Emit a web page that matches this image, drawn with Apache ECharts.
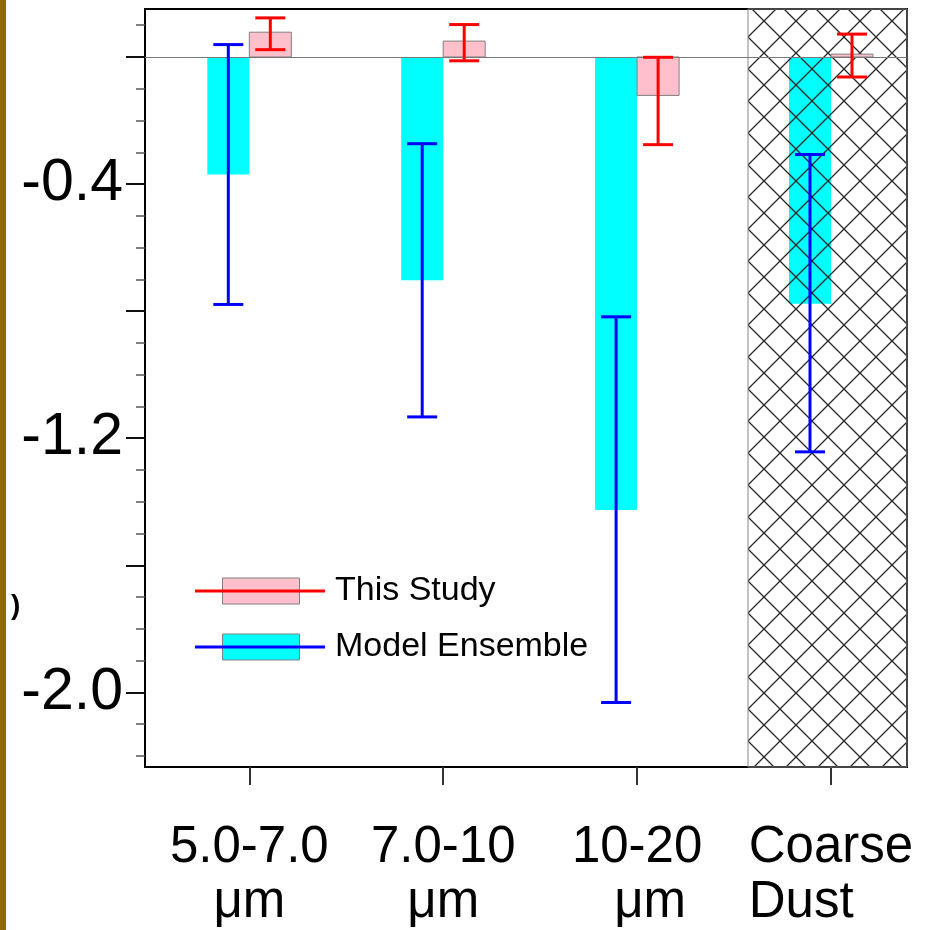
<!DOCTYPE html>
<html>
<head>
<meta charset="utf-8">
<script src="https://cdn.jsdelivr.net/npm/echarts@6/dist/echarts.min.js"></script>
<style>
  html, body { margin: 0; padding: 0; background: #ffffff; }
  #wrap { position: relative; width: 926px; height: 930px; }
  #chart { position: absolute; left: 0; top: 0; width: 926px; height: 930px; }
  #strip { position: absolute; left: 0; top: 0; width: 6px; height: 930px; background: #8c6a00; z-index: 10; }
</style>
</head>
<body>
<div id="wrap">
  <div id="chart"></div>
  <div id="strip"></div>
</div>
<script>
// Size-bin categories and their positions on the x axis
const categories = ['5.0-7.0\nμm', '7.0-10\nμm', '10-20\nμm', 'Coarse\nDust'];
const positions = [1, 2, 3, 4];

// This Study: central value and uncertainty range
const thisStudy = [0.078, 0.050, -0.121, 0.009];
const thisStudyLow = [0.023, -0.012, -0.276, -0.063];
const thisStudyHigh = [0.123, 0.102, -0.001, 0.072];

// Model Ensemble: central value and spread
const modelEnsemble = [-0.370, -0.703, -1.426, -0.777];
const modelLow = [-0.779, -1.133, -2.032, -1.243];
const modelHigh = [0.039, -0.273, -0.818, -0.307];

// Axis ranges and tick values
const xMin = 0.462, xMax = 4.392;
const yMin = -2.235, yMax = 0.151;
const yMajorTicks = [0, -0.4, -0.8, -1.2, -1.6, -2.0];
const yLabelTicks = [-0.4, -1.2, -2.0];
const yMinorTicks = [0.1, -0.1, -0.2, -0.3, -0.5, -0.6, -0.7, -0.9, -1.0, -1.1,
  -1.3, -1.4, -1.5, -1.7, -1.8, -1.9, -2.1, -2.2];

// Shaded (cross-hatched) x range for the coarse-dust bin
const hatchRange = [3.572, xMax];

const FONT = "'Liberation Sans', Arial, Helvetica, sans-serif";
const BAR_W = 42;      // bar width in px
const CAP_HALF = 15;   // half width of error-bar caps in px

// Cross-hatch tile
function makeHatch() {
  const s = 32;
  const c = document.createElement('canvas');
  c.width = s; c.height = s;
  const g = c.getContext('2d');
  g.strokeStyle = '#262626';
  g.lineWidth = 1.3;
  for (let k = -1; k <= 1; k++) {
    g.beginPath();
    g.moveTo(k * s, 0); g.lineTo(k * s + s, s);
    g.moveTo(k * s + s, 0); g.lineTo(k * s, s);
    g.stroke();
  }
  return c;
}

function barRenderer(side, fill, stroke) {
  return function (params, api) {
    const x = api.value(0), v = api.value(1);
    const p0 = api.coord([x, 0]);
    const p1 = api.coord([x, v]);
    const left = side < 0 ? p0[0] - BAR_W : p0[0];
    return {
      type: 'rect',
      shape: { x: left, y: Math.min(p0[1], p1[1]), width: BAR_W, height: Math.abs(p1[1] - p0[1]) },
      style: { fill: fill, stroke: stroke || null, lineWidth: stroke ? 1 : 0 }
    };
  };
}

function errorRenderer(side, color) {
  return function (params, api) {
    const x = api.value(0);
    const lo = api.coord([x, api.value(1)]);
    const hi = api.coord([x, api.value(2)]);
    const cx = lo[0] + side * BAR_W / 2;
    const st = { stroke: color, lineWidth: 3 };
    return {
      type: 'group',
      children: [
        { type: 'line', shape: { x1: cx, y1: lo[1], x2: cx, y2: hi[1] }, style: st },
        { type: 'line', shape: { x1: cx - CAP_HALF, y1: lo[1], x2: cx + CAP_HALF, y2: lo[1] }, style: st },
        { type: 'line', shape: { x1: cx - CAP_HALF, y1: hi[1], x2: cx + CAP_HALF, y2: hi[1] }, style: st }
      ]
    };
  };
}

const hatchTile = makeHatch();

const chart = echarts.init(document.getElementById('chart'), null, { renderer: 'canvas' });

// second-line style per category: centred, nudged right, or left-aligned
const unitStyle = ['c', 'c', 'r', 'l'];

const option = {
  animation: false,
  backgroundColor: '#ffffff',
  grid: {
    left: 145, right: 19, top: 9, bottom: 162,
    show: true, borderColor: '#000', borderWidth: 2, backgroundColor: 'transparent'
  },
  xAxis: {
    type: 'value',
    min: xMin, max: xMax,
    axisLine: { show: true, onZero: false, lineStyle: { color: '#000', width: 2 } },
    axisTick: { show: true, customValues: positions, length: 18, lineStyle: { color: '#333', width: 2 } },
    axisLabel: {
      show: true,
      customValues: positions,
      margin: 53,
      fontFamily: FONT, fontSize: 51, color: '#000', lineHeight: 55,
      formatter: function (v) {
        const i = positions.indexOf(Math.round(v));
        if (i < 0) return '';
        const parts = categories[i].split('\n');
        return '{c|' + parts[0] + '}\n{' + unitStyle[i] + '|' + parts[1] + '}';
      },
      rich: {
        c: { fontFamily: FONT, fontSize: 51, lineHeight: 55, color: '#000', align: 'center' },
        r: { fontFamily: FONT, fontSize: 51, lineHeight: 55, color: '#000', align: 'center', padding: [0, 0, 0, 26] },
        l: { fontFamily: FONT, fontSize: 51, lineHeight: 55, color: '#000', align: 'left' }
      }
    },
    splitLine: { show: false }
  },
  yAxis: [
    {
      type: 'value',
      position: 'left',
      min: yMin, max: yMax,
      axisLine: { show: true, onZero: false, lineStyle: { color: '#000', width: 2 } },
      axisTick: { show: true, customValues: yMajorTicks, length: 19, lineStyle: { color: '#111', width: 2 } },
      axisLabel: {
        show: true, customValues: yLabelTicks, margin: 22,
        fontFamily: FONT, fontSize: 59, color: '#000',
        formatter: function (v) { return v.toFixed(1); }
      },
      splitLine: { show: false }
    },
    {
      type: 'value',
      position: 'left',
      min: yMin, max: yMax,
      axisLine: { show: false, onZero: false },
      axisTick: { show: true, customValues: yMinorTicks, length: 9, lineStyle: { color: '#555', width: 1.5 } },
      axisLabel: { show: false },
      splitLine: { show: false }
    }
  ],
  legend: [
    {
      // colored boxes behind the legend lines
      orient: 'vertical', left: 222, top: 571, padding: 0, z: 4,
      itemGap: 16, itemWidth: 77, itemHeight: 26,
      selectedMode: false,
      textStyle: { fontFamily: FONT, fontSize: 34, lineHeight: 40, color: 'rgba(0,0,0,0)' },
      data: [
        { name: 'This Study', icon: 'rect', itemStyle: { color: '#ffc0cb', borderColor: '#808080', borderWidth: 1 } },
        { name: 'Model Ensemble', icon: 'rect', itemStyle: { color: '#00ffff', borderColor: '#808080', borderWidth: 1 } }
      ]
    },
    {
      orient: 'vertical', left: 195, top: 571, padding: 0, z: 5,
      itemGap: 16, itemWidth: 130, itemHeight: 3,
      selectedMode: false,
      textStyle: { fontFamily: FONT, fontSize: 34, lineHeight: 40, color: '#000', padding: [0, 0, 0, 5] },
      data: [
        { name: 'This Study', icon: 'rect', itemStyle: { color: '#ff0000', borderWidth: 0 } },
        { name: 'Model Ensemble', icon: 'rect', itemStyle: { color: '#0000ff', borderWidth: 0 } }
      ]
    }
  ],
  graphic: [
    { type: 'text', left: 11, top: 592, style: { text: ')', font: 'bold 28px ' + FONT, fill: '#000' } }
  ],
  series: [
    {
      name: 'Model Ensemble',
      type: 'custom', z: 2, silent: true,
      renderItem: barRenderer(-1, '#00ffff', null),
      data: positions.map((p, i) => [p, modelEnsemble[i]])
    },
    {
      name: 'coarse dust',
      type: 'custom', z: 3, silent: true,
      renderItem: function (params, api) {
        const a = api.coord([api.value(0), yMax]);
        const b = api.coord([api.value(1), yMin]);
        return {
          type: 'rect',
          shape: { x: a[0], y: a[1], width: b[0] - a[0], height: b[1] - a[1] },
          style: {
            fill: { image: hatchTile, repeat: 'repeat', x: 12, y: 5 },
            stroke: '#888', lineWidth: 1
          }
        };
      },
      data: [hatchRange]
    },
    {
      name: 'This Study',
      type: 'custom', z: 4, silent: true,
      renderItem: barRenderer(1, '#ffc0cb', '#808080'),
      data: positions.map((p, i) => [p, thisStudy[i]]),
      markLine: {
        silent: true, symbol: 'none', label: { show: false },
        lineStyle: { color: '#777', width: 1, type: 'solid' },
        data: [{ yAxis: 0 }]
      }
    },
    {
      name: 'Model Ensemble',
      type: 'custom', z: 6, silent: true,
      renderItem: errorRenderer(-1, '#0000ff'),
      data: positions.map((p, i) => [p, modelLow[i], modelHigh[i]])
    },
    {
      name: 'This Study',
      type: 'custom', z: 6, silent: true,
      renderItem: errorRenderer(1, '#ff0000'),
      data: positions.map((p, i) => [p, thisStudyLow[i], thisStudyHigh[i]])
    }
  ]
};

chart.setOption(option);
</script>
</body>
</html>
